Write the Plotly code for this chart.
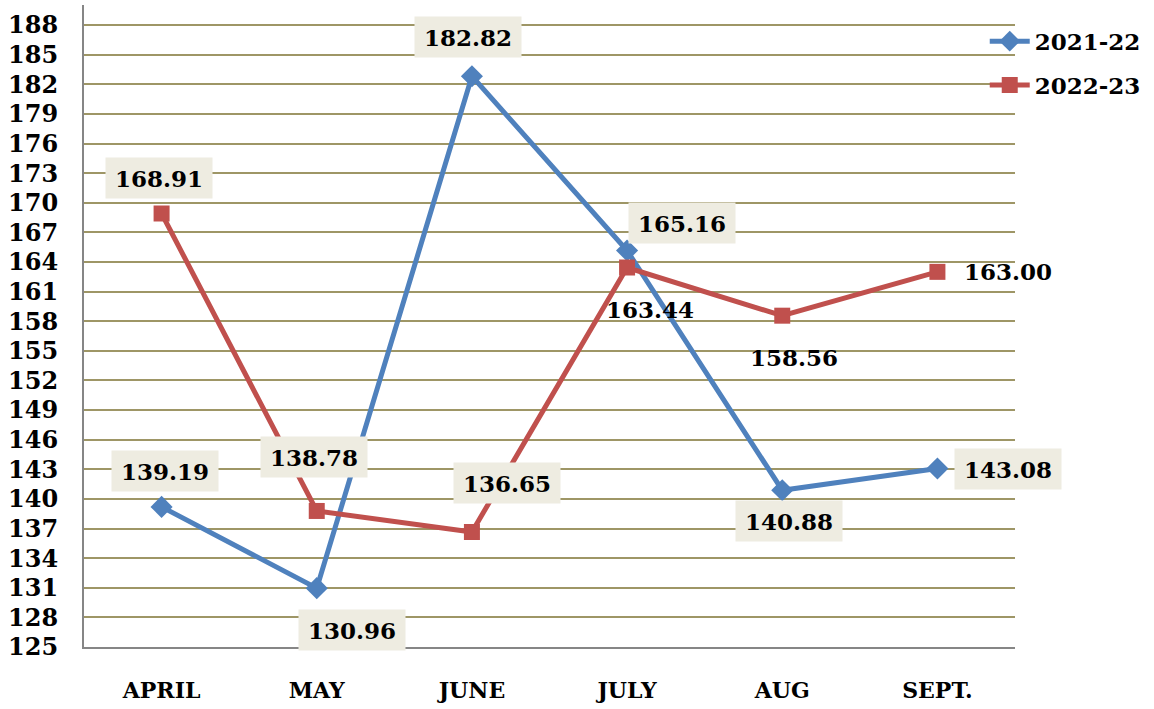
import plotly.graph_objects as go

months = ["APRIL", "MAY", "JUNE", "JULY", "AUG", "SEPT."]
series_names = ["2021-22", "2022-23"]
values_2021_22 = [139.19, 130.96, 182.82, 165.16, 140.88, 143.08]
values_2022_23 = [168.91, 138.78, 136.65, 163.44, 158.56, 163.00]
y_ticks = list(range(125, 189, 3))

BLUE = "#4F81BD"
RED = "#C0504D"
BOX = "#EEECE1"
FONT = "DejaVu Serif"

# label placement (pixel offsets from each point) and whether boxed
blue_offsets = [(3, 36, True), (35, -42, True), (-4, 39, True), (55, 28, True), (7, -31, True), (71, 0, True)]
red_offsets = [(-3, 36, True), (-3, 54, True), (35, 49, True), (23, -42, False), (12, -42, False), (71, 0, False)]

fig = go.Figure()
fig.add_trace(go.Scatter(
    x=months, y=values_2021_22, name=series_names[0], mode="lines+markers",
    line=dict(color=BLUE, width=5),
    marker=dict(symbol="diamond", size=17, color=BLUE),
    legendgroup="a",
))
fig.add_trace(go.Scatter(
    x=months, y=values_2022_23, name=series_names[1], mode="lines+markers",
    line=dict(color=RED, width=5),
    marker=dict(symbol="square", size=16, color=RED),
    legendgroup="b",
))

annotations = []
for vals, offs in ((values_2021_22, blue_offsets), (values_2022_23, red_offsets)):
    for m, v, (dx, dy, boxed) in zip(months, vals, offs):
        a = dict(
            x=m, y=v, xref="x", yref="y", text=f"{v:.2f}", showarrow=False,
            xshift=dx, yshift=dy,
            font=dict(family=FONT, size=23, color="black", weight="bold"),
        )
        if boxed:
            a.update(bgcolor=BOX, width=104, height=38)
        annotations.append(a)

fig.update_layout(
    width=1154, height=709,
    margin=dict(l=84, r=139, t=5, b=62),
    plot_bgcolor="white", paper_bgcolor="white",
    font=dict(family=FONT, size=22, color="black", weight="bold"),
    showlegend=True,
    legend=dict(
        x=0.9675, y=0.977, xanchor="left", yanchor="top",
        font=dict(family=FONT, size=23, color="black", weight="bold"),
        bgcolor="rgba(0,0,0,0)", tracegroupgap=11, traceorder="grouped",
        itemwidth=40,
    ),
    annotations=annotations,
    xaxis=dict(
        type="category", range=[-0.5, 5.5], automargin=False,
        showgrid=False, showline=True, linecolor="#868686", linewidth=2,
        ticks="", ticklabelstandoff=23,
        tickfont=dict(family=FONT, size=22, color="black", weight="bold"),
        zeroline=False,
    ),
    yaxis=dict(
        range=[125, 190.03], tickmode="array", tickvals=y_ticks, automargin=False,
        ticktext=[str(t) for t in y_ticks],
        showgrid=True, gridcolor="#9E9666", gridwidth=2,
        showline=True, linecolor="#868686", linewidth=2,
        ticks="", ticklabelstandoff=19,
        tickfont=dict(family=FONT, size=24, color="black", weight="bold"),
        zeroline=False,
    ),
)

fig.write_html("out.html", config={"displayModeBar": False},
               post_script="document.body.style.margin='0';")
